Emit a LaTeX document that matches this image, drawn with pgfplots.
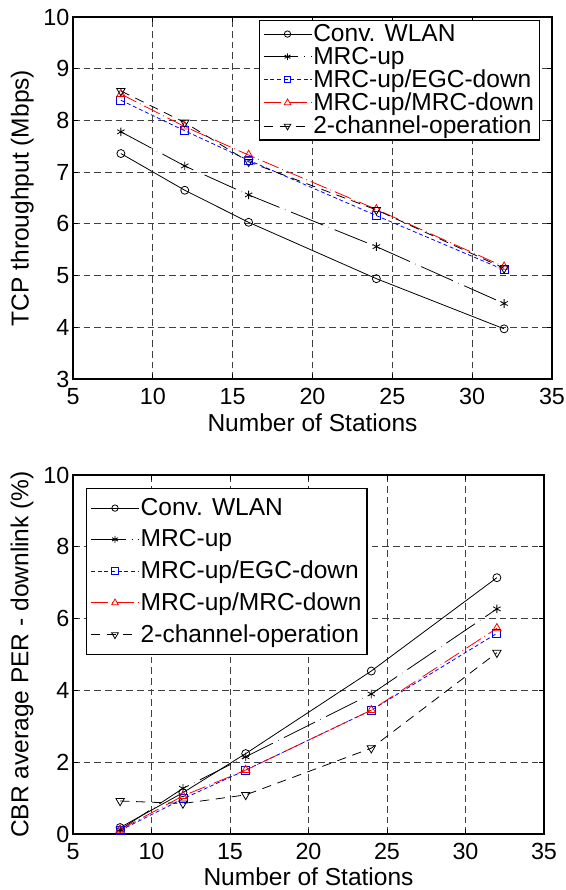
\documentclass[border=0pt]{standalone}
\usepackage{pgfplots}
\pgfplotsset{compat=1.18}
\usepackage{fontspec}
\setmainfont{Liberation Sans}
\begin{document}
\begin{tikzpicture}
\pgfplotsset{
  limg/.style={legend image code/.code={\draw[mark repeat=2,mark phase=2,##1, every mark/.append style={scale=0.8}] plot coordinates {(0pt,0pt) (18pt,0pt) (36pt,0pt)};}},
  mstyle/.style={
    scale only axis,
    xmin=5, xmax=35,
    xtick={5,10,...,35},
    tick align=inside,
    major tick length=4pt,
    axis line style={line width=0.9pt},
    every tick/.style={line width=0.6pt, black},
    grid=major,
    major grid style={black!75, line width=0.6pt, dash pattern=on 5pt off 3pt},
    /pgf/number format/assume math mode=true,
    tick label style={font=\fontsize{17.5}{20}\selectfont},
    xticklabel style={inner sep=1pt, yshift=-6pt},
    yticklabel style={inner sep=1pt, xshift=-1.5pt},
    label style={font=\fontsize{18.4}{21}\selectfont},
    xlabel={Number of Stations},
    legend cell align=left,
    legend style={font=\fontsize{18.4}{21}\selectfont, line width=0.9pt,
      nodes={inner sep=1pt, line width=0.6pt}},
    every axis plot post/.append style={limg},
  },
  sconv/.style={black, line width=0.6pt, mark=o, mark size=3pt, mark options={solid}},
  smrc/.style={black, line width=0.6pt, dash pattern=on 26pt off 4.5pt on 0.3pt off 4.5pt, mark=asterisk, mark size=3.2pt, mark options={solid}},
  segc/.style={blue, line width=0.6pt, dash pattern=on 3pt off 2pt, mark=square, mark size=3pt, mark options={solid}},
  smrcd/.style={red, line width=0.6pt, dash pattern=on 13pt off 3pt on 0.6pt off 3pt, mark=triangle, mark size=3.6pt, mark options={solid}},
  stwo/.style={black, line width=0.6pt, dash pattern=on 7pt off 5pt, mark=triangle, mark size=3.6pt, mark options={solid, rotate=180}},
}
\path[use as bounding box] (0,0) rectangle (424.5pt,-667.5pt);
% Top
\begin{axis}[mstyle,
  at={(54.75pt,-12.75pt)}, anchor=north west,
  width=359.25pt, height=271.5pt,
  ymin=3, ymax=10, ytick={3,...,10},
  ylabel={TCP throughput (Mbps)},
  ylabel style={at={(axis description cs:-0.106,0.5)}, anchor=center},
  xlabel style={at={(axis description cs:0.5,-0.122)}, anchor=center},
  legend style={at={(axis description cs:0.975,0.992)}, anchor=north east, row sep=0.6pt, inner xsep=3pt, inner ysep=2pt},
]
\addplot[sconv] coordinates {(8,7.36) (12,6.65) (16,6.03) (24,4.94) (32,3.97)};
\addlegendentry{Conv. WLAN}
\addplot[smrc] coordinates {(8,7.78) (12,7.12) (16,6.56) (24,5.56) (32,4.46)};
\addlegendentry{MRC-up}
\addplot[segc] coordinates {(8,8.39) (12,7.80) (16,7.23) (24,6.16) (32,5.11)};
\addlegendentry{MRC-up/EGC-down}
\addplot[smrcd] coordinates {(8,8.51) (12,7.88) (16,7.33) (24,6.28) (32,5.17)};
\addlegendentry{MRC-up/MRC-down}
\addplot[stwo] coordinates {(8,8.57) (12,7.96) (16,7.20) (24,6.27) (32,5.14)};
\addlegendentry{2-channel-operation}
\end{axis}
% Bottom
\begin{axis}[mstyle,
  at={(54.75pt,-356.25pt)}, anchor=north west,
  width=353.25pt, height=269.25pt,
  ymin=0, ymax=10, ytick={0,2,...,10},
  ylabel={CBR average PER - downlink (\%)},
  ylabel style={at={(axis description cs:-0.108,0.5)}, anchor=center},
  xlabel style={at={(axis description cs:0.5,-0.12)}, anchor=center},
  legend style={at={(axis description cs:0.0276,0.964)}, anchor=north west, row sep=7.1pt, inner xsep=3pt, inner ysep=6.5pt},
]
\addplot[sconv] coordinates {(8,0.18) (12,1.15) (16,2.24) (24,4.54) (32,7.14)};
\addlegendentry{Conv. WLAN}
\addplot[smrc] coordinates {(8,0.12) (12,1.27) (16,2.15) (24,3.90) (32,6.27)};
\addlegendentry{MRC-up}
\addplot[segc] coordinates {(8,0.10) (12,0.98) (16,1.78) (24,3.45) (32,5.59)};
\addlegendentry{MRC-up/EGC-down}
\addplot[smrcd] coordinates {(8,0.12) (12,1.06) (16,1.78) (24,3.45) (32,5.73)};
\addlegendentry{MRC-up/MRC-down}
\addplot[stwo] coordinates {(8,0.92) (12,0.85) (16,1.09) (24,2.39) (32,5.05)};
\addlegendentry{2-channel-operation}
\end{axis}
\end{tikzpicture}
\end{document}
